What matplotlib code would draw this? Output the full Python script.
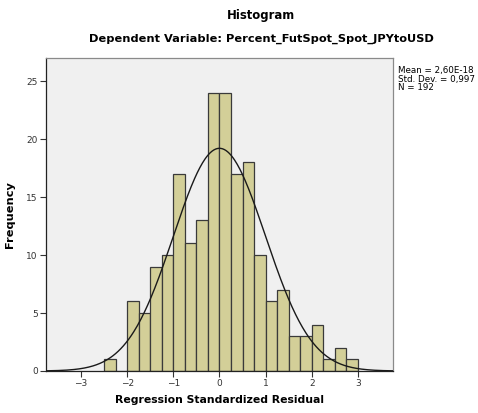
import numpy as np
import matplotlib
matplotlib.use("Agg")
import matplotlib.pyplot as plt

bin_left = [-2.5, -2.25, -2.0, -1.75, -1.5, -1.25, -1.0, -0.75, -0.5, -0.25,
            0.0, 0.25, 0.5, 0.75, 1.0, 1.25, 1.5, 1.75, 2.0, 2.25, 2.5, 2.75]
counts = [1, 0, 6, 5, 9, 10, 17, 11, 13, 24,
          24, 17, 18, 10, 6, 7, 3, 3, 4, 1, 2, 1]
bin_width = 0.25
mean = 0.0
std = 0.997
n = 192
xticks = [-3, -2, -1, 0, 1, 2, 3]
yticks = [0, 5, 10, 15, 20, 25]

plt.rcParams['font.family'] = ['DejaVu Sans']
fig = plt.figure(figsize=(4.78, 4.13), dpi=100)
ax = fig.add_axes([0.0962, 0.1017, 0.7258, 0.758])
ax.set_facecolor('#F0F0F0')

ax.bar(bin_left, counts, width=bin_width, align='edge', color='#D3CF98',
       edgecolor='#3a3a3a', linewidth=0.9, zorder=2)

xs = np.linspace(-3.76, 3.76, 400)
pdf = n * bin_width / (std * np.sqrt(2 * np.pi)) * np.exp(-0.5 * ((xs - mean) / std) ** 2)
ax.plot(xs, pdf, color='#1a1a1a', linewidth=1.0, zorder=3)

ax.set_xlim(-3.76, 3.76)
ax.set_ylim(0, 27)
ax.set_xticks(xticks)
ax.set_xticklabels([str(t) if t >= 0 else '\u2212' + str(-t) for t in xticks])
ax.set_yticks(yticks)
ax.tick_params(labelsize=6.5, length=4, width=0.8, colors='#333333', pad=2)
for s in ['left', 'bottom']:
    ax.spines[s].set_color('#222222')
    ax.spines[s].set_linewidth(0.9)
for s in ['top', 'right']:
    ax.spines[s].set_color('#8a8a8a')
    ax.spines[s].set_linewidth(0.9)

ax.set_xlabel('Regression Standardized Residual', fontsize=7.8, fontweight='bold', labelpad=5)
ax.set_ylabel('Frequency', fontsize=8.2, fontweight='bold', labelpad=8)

fig.text(0.546, 0.962, 'Histogram', ha='center', va='center', fontsize=8.4, fontweight='bold')
fig.text(0.546, 0.906, 'Dependent Variable: Percent_FutSpot_Spot_JPYtoUSD', ha='center',
         va='center', fontsize=8.2, fontweight='bold')
fig.text(0.833, 0.808, 'Mean = 2,60E-18\nStd. Dev. = 0,997\nN = 192', ha='left', va='center',
         fontsize=6.3, linespacing=0.95)

fig.savefig('out.png', dpi=100, facecolor='white')
